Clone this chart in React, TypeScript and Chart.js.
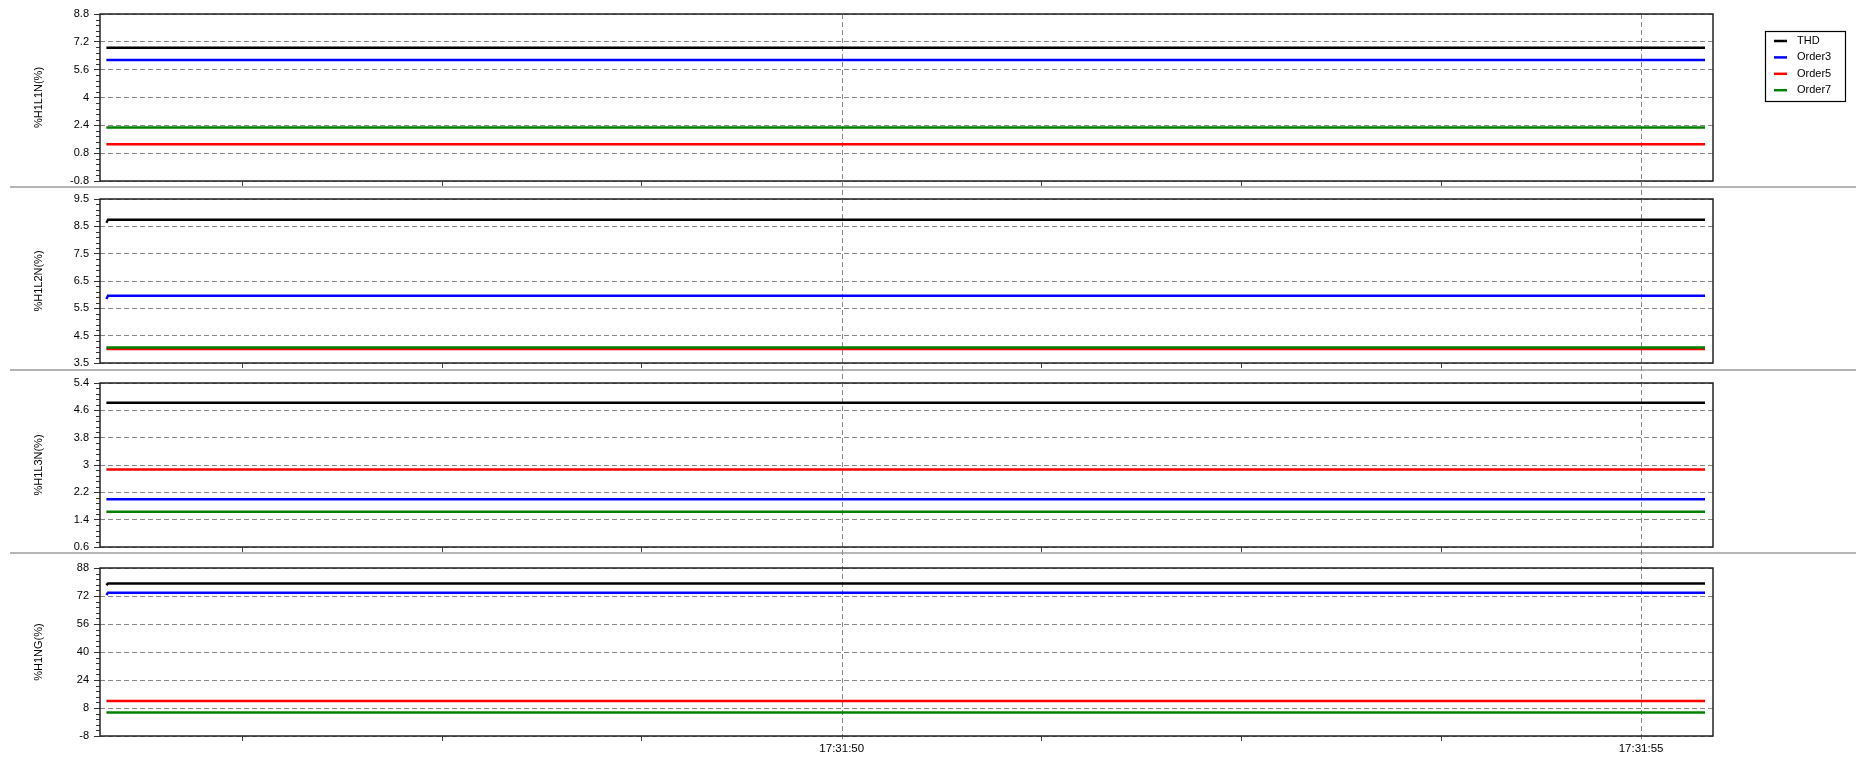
import React, { useEffect, useRef } from 'react';
import { Chart, registerables } from 'chart.js';
Chart.register(...registerables);

const W = 1856;
const H = 757;
const FONT = 'Arial, "Liberation Sans", sans-serif';

// ---- data ----
const sampleTimes = [45.4, 45.41, 55.4];
const xTickValues = [46.25, 47.5, 48.75, 50, 51.25, 52.5, 53.75, 55];
const xLabelValues = [50, 55];
const xLabelTexts = ['17:31:50', '17:31:55'];
const xMin = 45.36;
const xMax = 55.45;

const seriesNames = ['THD', 'Order3', 'Order5', 'Order7'];
const seriesColors = ['#000000', '#0000ff', '#ff0000', '#008000'];
const seriesDrawOrder = [0, 1, 3, 2];

const panelTitles = ['%H1L1N(%)', '%H1L2N(%)', '%H1L3N(%)', '%H1NG(%)'];

const l1nTHD = [6.86, 6.86, 6.86];
const l1nOrder3 = [6.16, 6.16, 6.16];
const l1nOrder5 = [1.31, 1.31, 1.31];
const l1nOrder7 = [2.27, 2.27, 2.27];
const l1nTicks = [-0.8, 0.8, 2.4, 4, 5.6, 7.2, 8.8];

const l2nTHD = [8.63, 8.74, 8.74];
const l2nOrder3 = [5.84, 5.96, 5.96];
const l2nOrder5 = [4.01, 4.01, 4.01];
const l2nOrder7 = [4.07, 4.07, 4.07];
const l2nTicks = [3.5, 4.5, 5.5, 6.5, 7.5, 8.5, 9.5];

const l3nTHD = [4.82, 4.82, 4.82];
const l3nOrder3 = [2.0, 2.0, 2.0];
const l3nOrder5 = [2.87, 2.87, 2.87];
const l3nOrder7 = [1.63, 1.63, 1.63];
const l3nTicks = [0.6, 1.4, 2.2, 3, 3.8, 4.6, 5.4];

const ngTHD = [78.2, 79.2, 79.2];
const ngOrder3 = [72.6, 73.9, 73.9];
const ngOrder5 = [12.0, 12.0, 12.0];
const ngOrder7 = [5.5, 5.5, 5.5];
const ngTicks = [-8, 8, 24, 40, 56, 72, 88];

const panelSeries = [
  [l1nTHD, l1nOrder3, l1nOrder5, l1nOrder7],
  [l2nTHD, l2nOrder3, l2nOrder5, l2nOrder7],
  [l3nTHD, l3nOrder3, l3nOrder5, l3nOrder7],
  [ngTHD, ngOrder3, ngOrder5, ngOrder7],
];
const panelTicks = [l1nTicks, l2nTicks, l3nTicks, ngTicks];

// ---- layout (pixels) ----
const panelTops = [14, 199, 383, 568];
const panelBottoms = [181, 363, 547, 736];
const separatorYs = [187, 370, 553];
const AXIS_W = 100;
const RIGHT_PAD = 143;
const XAXIS_H = 20;

function makeDecorPlugin(idx: number) {
  return {
    id: 'decor' + idx,
    beforeDatasetsDraw(chart: any) {
      if (idx !== 0) return;
      const ctx = chart.ctx;
      ctx.save();
      // separators
      ctx.strokeStyle = '#b4b4b4';
      ctx.lineWidth = 2;
      ctx.setLineDash([]);
      separatorYs.forEach((y) => {
        ctx.beginPath();
        ctx.moveTo(10, y);
        ctx.lineTo(W, y);
        ctx.stroke();
      });
      // continuous vertical grid lines
      const xs = chart.scales.x;
      ctx.strokeStyle = '#888888';
      ctx.lineWidth = 1;
      ctx.setLineDash([5, 3]);
      xLabelValues.forEach((v) => {
        const px = Math.round(xs.getPixelForValue(v)) + 0.5;
        ctx.beginPath();
        ctx.moveTo(px, panelTops[0]);
        ctx.lineTo(px, panelBottoms[3] + 6);
        ctx.stroke();
      });
      ctx.restore();
    },
    afterDraw(chart: any) {
      const ctx = chart.ctx;
      const a = chart.chartArea;
      const ys = chart.scales.y;
      const ticks = panelTicks[idx];
      ctx.save();
      ctx.setLineDash([]);
      // minor y ticks
      ctx.strokeStyle = '#333';
      ctx.lineWidth = 1;
      for (let i = 0; i < ticks.length - 1; i++) {
        for (let k = 1; k < 5; k++) {
          const v = ticks[i] + ((ticks[i + 1] - ticks[i]) * k) / 5;
          const py = Math.round(ys.getPixelForValue(v)) + 0.5;
          ctx.beginPath();
          ctx.moveTo(a.left - 4, py);
          ctx.lineTo(a.left, py);
          ctx.stroke();
        }
      }
      // frame
      ctx.strokeStyle = '#222';
      ctx.lineWidth = 1.5;
      ctx.strokeRect(a.left, a.top, a.right - a.left, a.bottom - a.top);
      // legend
      if (idx === 0) {
        ctx.lineWidth = 1.2;
        ctx.strokeStyle = '#000';
        ctx.strokeRect(1765.5, 31.5, 80, 70);
        ctx.font = '11px ' + FONT;
        ctx.textBaseline = 'middle';
        ctx.textAlign = 'left';
        chart.data.datasets.forEach((ds: any, k: number) => {
          const y = 41 + 16.4 * k;
          ctx.strokeStyle = ds.borderColor;
          ctx.lineWidth = 2.5;
          ctx.beginPath();
          ctx.moveTo(1774, y);
          ctx.lineTo(1787, y);
          ctx.stroke();
          ctx.fillStyle = '#000';
          ctx.fillText(ds.label, 1797, y);
        });
      }
      ctx.restore();
    },
  };
}

function makeConfig(idx: number): any {
  const isLast = idx === 3;
  const ticks = panelTicks[idx];
  return {
    type: 'line',
    data: {
      datasets: seriesNames.map((name, k) => ({
        label: name,
        data: sampleTimes.map((t, j) => ({ x: t, y: panelSeries[idx][k][j] })),
        borderColor: seriesColors[k],
        backgroundColor: seriesColors[k],
        borderWidth: 2.5,
        pointRadius: 0,
        tension: 0,
        fill: false,
        order: seriesDrawOrder[k],
      })),
    },
    options: {
      responsive: false,
      animation: false,
      events: [],
      layout: {
        padding: { left: 0, right: RIGHT_PAD, top: panelTops[idx], bottom: H - panelBottoms[idx] - XAXIS_H },
      },
      plugins: { legend: { display: false }, tooltip: { enabled: false }, title: { display: false } },
      scales: {
        x: {
          type: 'linear',
          min: xMin,
          max: xMax,
          afterBuildTicks: (s: any) => {
            s.ticks = xTickValues.map((v) => ({ value: v }));
          },
          afterFit: (s: any) => {
            s.height = XAXIS_H;
          },
          grid: {
            drawOnChartArea: false,
            drawTicks: true,
            tickLength: 5,
            tickWidth: 1,
            tickBorderDash: [],
            tickColor: (c: any) => (c.tick && xLabelValues.includes(c.tick.value) ? 'rgba(0,0,0,0)' : '#444'),
          },
          border: { display: false },
          ticks: {
            display: isLast,
            autoSkip: false,
            maxRotation: 0,
            padding: 1,
            color: '#000',
            font: { family: FONT, size: 11.5 },
            callback: (v: number) => {
              const i = xLabelValues.indexOf(v);
              return i >= 0 ? xLabelTexts[i] : '';
            },
          },
        },
        y: {
          type: 'linear',
          min: ticks[0],
          max: ticks[ticks.length - 1],
          afterBuildTicks: (s: any) => {
            s.ticks = ticks.map((v) => ({ value: v }));
          },
          afterFit: (s: any) => {
            s.width = AXIS_W;
          },
          grid: {
            color: '#888888',
            lineWidth: 1,
            drawTicks: true,
            tickLength: 6,
            tickWidth: 1,
            tickColor: '#333',
            tickBorderDash: [],
          },
          border: { display: false, dash: [5, 3] },
          ticks: {
            autoSkip: false,
            padding: 5,
            color: '#000',
            font: { family: FONT, size: 11 },
            callback: (v: number) => String(v),
          },
          title: {
            display: true,
            text: panelTitles[idx],
            color: '#000',
            font: { family: FONT, size: 11 },
            padding: { top: 32, bottom: 0 },
          },
        },
      },
    },
    plugins: [makeDecorPlugin(idx)],
  };
}

function Panel({ idx }: { idx: number }) {
  const ref = useRef<HTMLCanvasElement>(null);
  useEffect(() => {
    if (!ref.current) return;
    const chart = new Chart(ref.current, makeConfig(idx));
    return () => chart.destroy();
  }, [idx]);
  return (
    <canvas
      ref={ref}
      width={W}
      height={H}
      style={{ position: 'absolute', left: 0, top: 0, width: W, height: H }}
    />
  );
}

export default function App() {
  return (
    <div style={{ position: 'absolute', left: 0, top: 0, width: W, height: H, background: '#fff' }}>
      {[0, 1, 2, 3].map((i) => (
        <Panel key={i} idx={i} />
      ))}
    </div>
  );
}
